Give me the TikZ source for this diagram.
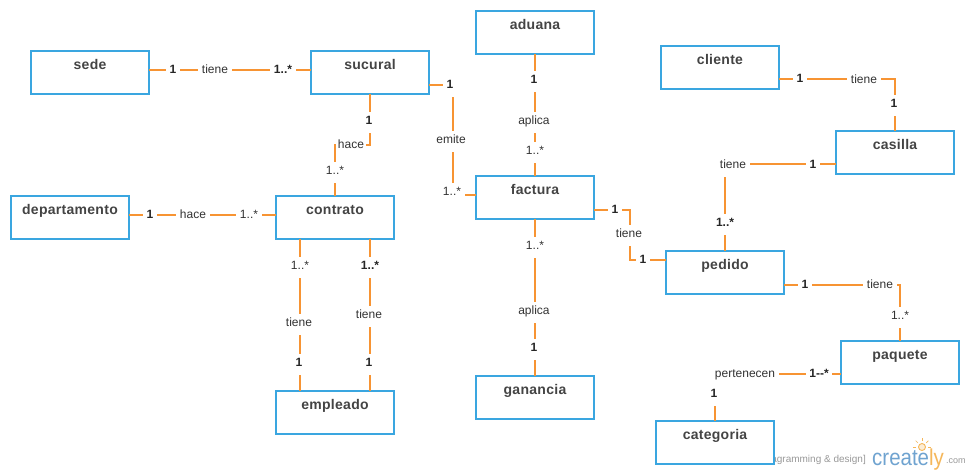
\documentclass[tikz,border=0pt]{standalone}
\usepackage{fontspec}
\setmainfont{Liberation Sans}
\newfontfamily\namefont[LetterSpace=2]{Liberation Sans}
\definecolor{boxblue}{HTML}{3AA6E0}
\definecolor{linkorange}{HTML}{F79433}
\definecolor{nametext}{HTML}{444444}
\definecolor{labeltext}{HTML}{333333}
\definecolor{wmblue}{HTML}{6FA3D0}
\definecolor{wmgray}{HTML}{999999}
\definecolor{wmorange}{HTML}{F5B75A}
\newcommand{\ename}[1]{\smash{\raisebox{3.5pt}{#1}}}
\tikzset{
  ent/.style={draw=boxblue,line width=2.1pt,fill=white,minimum width=118pt,minimum height=43pt,inner sep=0pt,outer sep=0pt,font=\namefont\fontsize{14pt}{15pt}\selectfont\bfseries,text=nametext},
  conn/.style={draw=linkorange,line width=2.2pt},
  lab/.style={fill=white,inner xsep=3.5pt,inner ysep=0pt,text height=12.5pt,text depth=8pt,outer sep=0pt,yshift=-2.5pt,font=\fontsize{12pt}{13pt}\selectfont,text=labeltext},
  labb/.style={lab,text height=13pt,text depth=8.5pt,font=\fontsize{12pt}{13pt}\selectfont\bfseries,text=black!85},
  wmtext/.style={inner sep=0pt,font=\fontsize{10pt}{11pt}\selectfont,text=wmgray},
}
\begin{document}
\begin{tikzpicture}[x=1pt,y=-1pt]
\useasboundingbox (0,0) rectangle (970,475);
\fill[white] (0,0) rectangle (970,475);
% watermark
\node[wmtext,anchor=east] (wm1) at (866,460) {[diagramming \& design]};
\node[inner sep=0pt,anchor=base west,font=\fontsize{23pt}{24pt}\selectfont,text=wmblue] (wm2) at (872,465) {\scalebox{0.89}[1]{create\textcolor{wmorange}{ly}}};
\node[wmtext,anchor=base west,font=\fontsize{9pt}{10pt}\selectfont] (wm3) at (946,463) {.com};
\draw[wmorange,line width=0.9pt,fill=wmorange!25] (922,447) circle (3.5);
\foreach \a in {0,45,90,135,180}{\draw[wmorange,line width=0.7pt] (922,447) ++(\a:-6) -- ++(\a:-3);}
% entities
\node[ent] (sede) at (90,72.5) {\ename{sede}};
\node[ent] (sucural) at (370,72.5) {\ename{sucural}};
\node[ent] (aduana) at (535,32.5) {\ename{aduana}};
\node[ent] (cliente) at (720,67.5) {\ename{cliente}};
\node[ent] (casilla) at (895,152.5) {\ename{casilla}};
\node[ent] (departamento) at (70,217.5) {\ename{departamento}};
\node[ent] (contrato) at (335,217.5) {\ename{contrato}};
\node[ent] (factura) at (535,197.5) {\ename{factura}};
\node[ent] (pedido) at (725,272.5) {\ename{pedido}};
\node[ent] (paquete) at (900,362.5) {\ename{paquete}};
\node[ent] (empleado) at (335,412.5) {\ename{empleado}};
\node[ent] (ganancia) at (535,397.5) {\ename{ganancia}};
\node[ent] (categoria) at (715,442.5) {\ename{categoria}};
\coordinate (emitebend) at (453,140);
\coordinate (hacebend) at (352,145);
\coordinate (tienebend) at (630,235);
% connectors
\draw[conn] ([yshift=2.5pt]sede.east) -- ([yshift=2.5pt]sucural.west);
\draw[conn] ([yshift=-12.5pt]sucural.east) -| (emitebend) |- ([yshift=2.5pt]factura.west);
\draw[conn] (sucural.south) |- (hacebend) -| (contrato.north);
\draw[conn] ([yshift=2.5pt]departamento.east) -- ([yshift=2.5pt]contrato.west);
\draw[conn] ([xshift=-35pt]contrato.south) -- ([xshift=-35pt]empleado.north);
\draw[conn] ([xshift=35pt]contrato.south) -- ([xshift=35pt]empleado.north);
\draw[conn] (aduana.south) -- (factura.north);
\draw[conn] (factura.south) -- (ganancia.north);
\draw[conn] ([yshift=-12.5pt]factura.east) -| (tienebend) |- ([yshift=12.5pt]pedido.west);
\draw[conn] ([yshift=-11.5pt]casilla.west) -| (pedido.north);
\draw[conn] ([yshift=-11.5pt]cliente.east) -| (casilla.north);
\draw[conn] ([yshift=-12.5pt]pedido.east) -| (paquete.north);
\draw[conn] ([yshift=-11.5pt]paquete.west) -| (categoria.north);
% labels
\node[labb] (a1) at (173,69) {1};
\node[lab] (a2) at (215,69) {tiene};
\node[labb] (a3) at (283,69) {1..*};
\node[labb] (b1) at (450,84) {1};
\node[lab] (b2) at (451,139) {emite};
\node[lab] (b3) at (452,191) {1..*};
\node[labb] (c1) at (369,120) {1};
\node[lab,inner xsep=1.5pt] (c2) at (351,144) {hace};
\node[lab] (c3) at (335,170) {1..*};
\node[labb] (d1) at (150,214) {1};
\node[lab] (d2) at (193,214) {hace};
\node[lab] (d3) at (249,214) {1..*};
\node[lab] (e1) at (300,265) {1..*};
\node[lab] (e2) at (299,322) {tiene};
\node[labb] (e3) at (299,362) {1};
\node[labb] (f1) at (370,265) {1..*};
\node[lab] (f2) at (369,314) {tiene};
\node[labb] (f3) at (369,362) {1};
\node[labb] (g1) at (534,79) {1};
\node[lab] (g2) at (534,120) {aplica};
\node[lab] (g3) at (535,150) {1..*};
\node[lab] (h1) at (535,245) {1..*};
\node[lab] (h2) at (534,310) {aplica};
\node[labb] (h3) at (534,347) {1};
\node[labb] (i1) at (615,209) {1};
\node[lab] (i2) at (629,233) {tiene};
\node[labb] (i3) at (643,259) {1};
\node[labb] (j1) at (813,164) {1};
\node[lab] (j2) at (733,164) {tiene};
\node[labb] (j3) at (725,222) {1..*};
\node[labb] (k1) at (800,78) {1};
\node[lab] (k2) at (864,79) {tiene};
\node[labb] (k3) at (894,103) {1};
\node[labb] (m1) at (805,284) {1};
\node[lab] (m2) at (880,284) {tiene};
\node[lab] (m3) at (900,315) {1..*};
\node[labb] (n1) at (819,373) {1-{}-*};
\node[lab] (n2) at (745,373) {pertenecen};
\node[labb] (n3) at (714,393) {1};
\end{tikzpicture}
\end{document}
